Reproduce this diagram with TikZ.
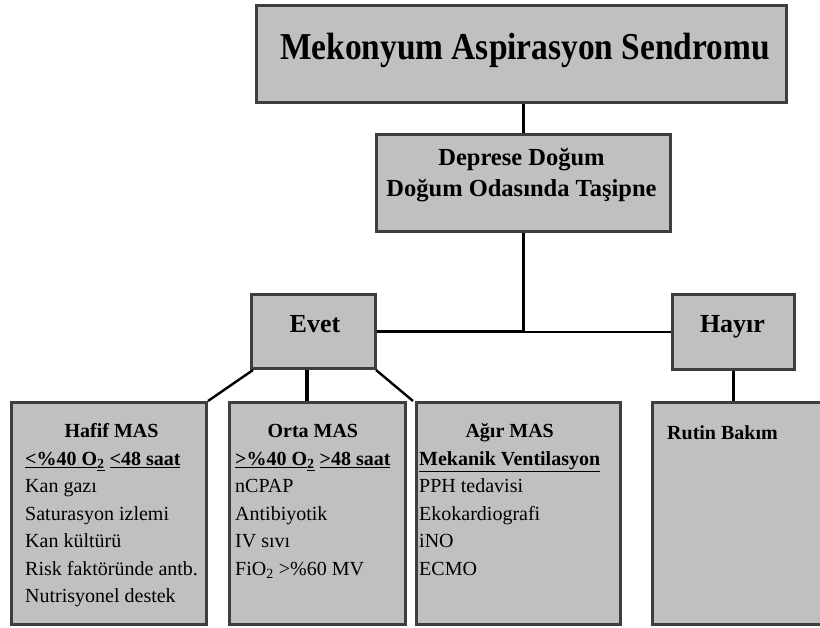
\documentclass[tikz,border=0pt]{standalone}
\usepackage{fontspec}
\setmainfont{Liberation Serif}
\newfontfamily\titlefont{Liberation Serif}[FakeStretch=0.88]
\definecolor{boxfill}{HTML}{C0C0C0}
\definecolor{boxline}{HTML}{3E3E3E}
\newcommand\myfs[2]{\fontsize{#1}{#2}\selectfont}
\tikzset{
  box/.style={draw=boxline, fill=boxfill, line width=3pt, rectangle, inner sep=0pt},
  lbl/.style={inner sep=0pt, anchor=base},
  blk/.style={inner sep=0pt, anchor=base west, font=\myfs{20}{27.5}},
  thick link/.style={draw=black, line width=3.5pt},
  mid link/.style={draw=black, line width=2.4pt},
  thin link/.style={draw=black, line width=1.5pt}
}
\begin{document}
\begin{tikzpicture}[x=1pt,y=-1pt]
\useasboundingbox (0,0) rectangle (820,628);
\fill[white] (0,0) rectangle (820,628);
\begin{scope}
\clip (0,0) rectangle (820,628);
% boxes
\node[box, minimum width=530pt, minimum height=97pt] (title) at (521.5,54) {};
\node[box, minimum width=294pt, minimum height=97pt] (dep) at (523.5,183) {};
\node[box, minimum width=124pt, minimum height=74pt] (evet) at (313.5,331.5) {};
\node[box, minimum width=122pt, minimum height=75pt] (hayir) at (733.5,332) {};
\node[box, minimum width=195pt, minimum height=222pt] (hafif) at (109,513.5) {};
\node[box, minimum width=176pt, minimum height=222pt] (orta) at (317.5,513.5) {};
\node[box, minimum width=204pt, minimum height=222pt] (agir) at (518.5,513.5) {};
\node[box, minimum width=230pt, minimum height=222pt] (rutin) at (767.5,513.5) {};
% connectors
\draw[thick link] (dep.north |- title.south) -- (dep.north);
\draw[thick link] (dep.south) -- (dep.south |- evet.east) -- (evet.east);
\draw[thin link] (dep.south |- hayir.west) -- (hayir.west);
\draw[mid link] ([xshift=3pt]evet.south west) -- (hafif.north east);
\draw[thick link] ([xshift=-6.5pt]evet.south) -- ([xshift=-6.5pt]evet.south |- orta.north);
\draw[mid link] ([xshift=-1pt]evet.south east) -- ([xshift=-2pt]agir.north west);
\draw[thick link] (733.5,371) -- (hayir.south |- rutin.north);
\end{scope}
% texts
\node[lbl, font=\titlefont\myfs{38}{42}\bfseries] (ttitle) at (525,60) {Mekonyum Aspirasyon Sendromu};
\node[lbl, font=\myfs{24.5}{30}\bfseries] (tdep1) at (521.5,166) {Deprese Doğum};
\node[lbl, font=\myfs{24.5}{30}\bfseries] (tdep2) at (521.5,197) {Doğum Odasında Taşipne};
\node[lbl, font=\myfs{26}{30}\bfseries] (tevet) at (315,333) {Evet};
\node[lbl, font=\myfs{26}{30}\bfseries] (thayir) at (732.5,333) {Hayır};
\node[blk] (thafif) at (25,438) {\begin{tabular}[t]{@{}l@{}}
\multicolumn{1}{@{}c@{}}{\bfseries Hafif MAS}\\
\bfseries\underline{<\%40 O}\underline{\textsubscript{2}} \underline{<48 saat}\\
Kan gazı\\
Saturasyon izlemi\\
Kan kültürü\\
Risk faktöründe antb.\\
Nutrisyonel destek
\end{tabular}};
\node[blk] (torta) at (235,438) {\begin{tabular}[t]{@{}l@{}}
\multicolumn{1}{@{}c@{}}{\bfseries Orta MAS}\\
\bfseries\underline{>\%40 O}\underline{\textsubscript{2}} \underline{>48 saat}\\
nCPAP\\
Antibiyotik\\
IV sıvı\\
FiO\textsubscript{2} >\%60 MV
\end{tabular}};
\node[blk] (tagir) at (419,438) {\begin{tabular}[t]{@{}l@{}}
\multicolumn{1}{@{}c@{}}{\bfseries Ağır MAS}\\
\bfseries\underline{Mekanik Ventilasyon}\\
PPH tedavisi\\
Ekokardiografi\\
iNO\\
ECMO
\end{tabular}};
\node[blk, font=\myfs{20}{27.5}\bfseries] (trutin) at (667,439) {Rutin Bakım};
\end{tikzpicture}
\end{document}
